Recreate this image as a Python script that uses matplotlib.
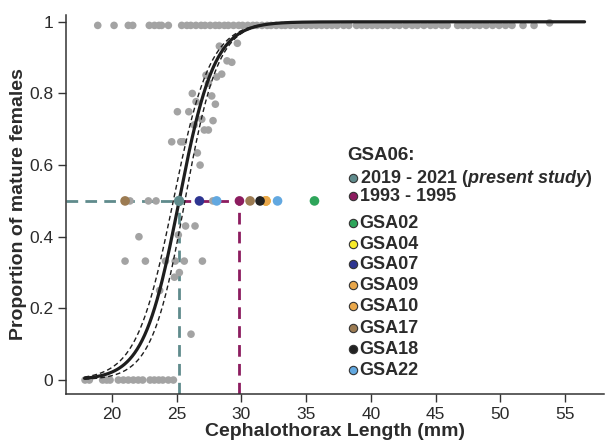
import numpy as np
import matplotlib
matplotlib.use("Agg")
import matplotlib.pyplot as plt

plt.rcParams["font.family"] = ["Liberation Sans", "DejaVu Sans"]
plt.rcParams["mathtext.fontset"] = "custom"
plt.rcParams["mathtext.it"] = "Liberation Sans:bold:italic"
plt.rcParams["mathtext.rm"] = "Liberation Sans:bold"

TXT = "#2b2b2b"
GRAY = "#a3a3a3"

# ----------------------------------------------------------------------------
# Data
# ----------------------------------------------------------------------------

# observed proportions of mature females by CL class
obs_cl_top = [18.92, 20.18, 21.28, 21.62, 22.9, 23.3, 23.65, 23.85, 24.37,
              25.4, 25.8, 26.1, 26.5, 26.9, 27.2, 27.6, 28.0, 28.3, 28.7,
              29.0, 29.4, 29.8, 30.1, 30.5, 30.9, 31.2, 31.6, 32.0, 32.3,
              32.7, 33.1, 33.4, 33.8, 34.2, 34.6, 35.0, 35.4, 35.8, 36.2,
              36.6, 37.0, 37.4, 37.9, 38.3, 38.9, 39.3, 39.7, 40.1, 40.5,
              40.9, 41.3, 41.8, 42.2, 42.7, 43.2, 43.6, 44.1, 44.6, 45.0,
              45.5, 45.9, 46.7, 47.1, 47.5, 48.0, 48.4, 48.9, 49.4, 49.9,
              50.4, 50.9, 51.75, 52.6]
obs_p_top = [0.99] * len(obs_cl_top)

obs_cl_mid = [53.8, 28.31, 29.7, 28.9, 29.27, 28.49, 27.28, 28.1, 27.46,
              26.22, 27.72, 26.51, 28.0, 25.07, 25.95, 26.95, 27.82, 26.36,
              27.15, 27.46, 24.63, 25.33, 25.53, 26.61, 26.82,
              21.41, 22.83, 23.42, 27.8,
              25.7, 26.43, 22.1, 25.14,
              21.03, 22.6, 24.15, 24.9, 25.6, 27.0,
              25.22, 24.84, 23.7, 26.12]
obs_p_mid = [0.997, 0.932, 0.94, 0.891, 0.887, 0.854, 0.851, 0.846, 0.828,
             0.80, 0.793, 0.777, 0.77, 0.749, 0.749, 0.728, 0.724, 0.712,
             0.698, 0.698, 0.665, 0.665, 0.665, 0.634, 0.60,
             0.50, 0.50, 0.50, 0.50,
             0.43, 0.43, 0.40, 0.405,
             0.332, 0.332, 0.332, 0.332, 0.332, 0.332,
             0.30, 0.287, 0.25, 0.128]

obs_cl_bot = [17.94, 18.27, 19.3, 19.61, 19.87, 20.51, 20.9, 21.28, 21.67,
              22.05, 22.39, 22.96, 23.29, 23.63, 23.94, 24.37, 24.76]
obs_p_bot = [0.0] * len(obs_cl_bot)

# logistic ogive: fit and confidence limits (L50, slope)
fit_l50, fit_slope = 25.2, 0.73
ci_l50 = [24.75, 25.65]
ci_slope = [0.70, 0.78]
fit_range = [17.9, 56.5]
ci_range = [17.9, 42.0]

# L50 of present study and 1993-1995
l50_present = 25.2
l50_past = 29.86

# L50 values from other GSAs (plotted at p = 0.5)
gsa_names = ["GSA04", "GSA09", "GSA10", "GSA17", "GSA17", "GSA07",
             "GSA22", "GSA18", "GSA22", "GSA02"]
gsa_l50 = [31.9, 31.9, 31.9, 21.03, 30.68, 26.77, 28.1, 31.45, 32.8, 35.65]

legend_labels = ["2019 - 2021 ($\\mathit{present\\ study}$)", "1993 - 1995",
                 "GSA02", "GSA04", "GSA07", "GSA09", "GSA10", "GSA17",
                 "GSA18", "GSA22"]

colors = {
    "present": "#5f8b8c",
    "past": "#8c1c5f",
    "GSA02": "#2ea55a",
    "GSA04": "#f7ea2a",
    "GSA07": "#2e3591",
    "GSA09": "#e8a64a",
    "GSA10": "#eaa84b",
    "GSA17": "#9c7b52",
    "GSA18": "#222222",
    "GSA22": "#62a8e0",
}


def logistic(x, l50, b):
    return 1.0 / (1.0 + np.exp(-b * (x - l50)))


# ----------------------------------------------------------------------------
# Figure
# ----------------------------------------------------------------------------

W, H = 614, 440
fig = plt.figure(figsize=(W / 100, H / 100), dpi=100)
ax = fig.add_axes([66 / W, 1 - 394 / H, 538 / W, 379 / H])

xmin, xmax = 16.47, 58.0
ymin, ymax = -0.039, 1.019
ax.set_xlim(xmin, xmax)
ax.set_ylim(ymin, ymax)

# reference dashed lines for L50
dash = (0, (4.2, 2.6))
ax.plot([xmin, l50_present], [0.5, 0.5], color=colors["present"], lw=2,
        ls=dash, zorder=2)
ax.plot([l50_present, l50_present], [ymin, 0.5], color=colors["present"],
        lw=2, ls=dash, zorder=2)
ax.plot([l50_present, l50_past], [0.5, 0.5], color=colors["past"], lw=2,
        ls=dash, zorder=2)
ax.plot([l50_past, l50_past], [ymin, 0.5], color=colors["past"], lw=2,
        ls=dash, zorder=2)

# observed points
ax.scatter(obs_cl_top + obs_cl_mid + obs_cl_bot,
           obs_p_top + obs_p_mid + obs_p_bot,
           s=30, color=GRAY, edgecolor="none", zorder=3)

# ogive + confidence limits
xf = np.linspace(fit_range[0], fit_range[1], 400)
ax.plot(xf, logistic(xf, fit_l50, fit_slope), color="#1e1e1e", lw=2.3,
        zorder=4, solid_capstyle="round")
xc = np.linspace(ci_range[0], ci_range[1], 300)
for l50, b in zip(ci_l50, ci_slope):
    ax.plot(xc, logistic(xc, l50, b), color="#1e1e1e", lw=1.0,
            ls=(0, (3.5, 2.2)), zorder=4)

# L50 points of the other GSAs and GSA06
for name, l50 in zip(gsa_names, gsa_l50):
    ax.scatter([l50], [0.5], s=48, color=colors[name], edgecolor="none",
               zorder=5)
ax.scatter([l50_present], [0.5], s=55, color=colors["present"],
           edgecolor="none", zorder=6)
ax.scatter([l50_past], [0.5], s=48, color=colors["past"], edgecolor="none",
           zorder=6)

# axes styling
for side in ["top", "right"]:
    ax.spines[side].set_visible(False)
for side in ["left", "bottom"]:
    ax.spines[side].set_linewidth(1.1)
    ax.spines[side].set_color("#333333")
ax.set_xticks([20, 25, 30, 35, 40, 45, 50, 55])
ax.set_yticks([0, 0.2, 0.4, 0.6, 0.8, 1.0])
ax.set_yticklabels(["0", "0.2", "0.4", "0.6", "0.8", "1"])
ax.tick_params(length=6, width=1, color="#333333", labelcolor=TXT,
               labelsize=12.5, pad=3)
ax.set_xlabel("Cephalothorax Length (mm)", fontsize=14, fontweight="bold",
              color=TXT, labelpad=1)
ax.set_ylabel("Proportion of mature females", fontsize=14, fontweight="bold",
              color=TXT, labelpad=2)

# legend (custom layout)
def ax_xy(px, py):
    return (px - 66) / 538, (394 - py) / 379


ax.text(*ax_xy(347, 155), "GSA06:", transform=ax.transAxes, fontsize=13.5,
        fontweight="bold", color=TXT, va="center", ha="left")
row_py = [178, 196, 223, 244, 264, 285, 306, 328, 349, 370]
row_keys = ["present", "past", "GSA02", "GSA04", "GSA07", "GSA09", "GSA10",
            "GSA17", "GSA18", "GSA22"]
for py, key, lab in zip(row_py, row_keys, legend_labels):
    mx, my = ax_xy(352.7, py)
    ax.plot([mx], [my], "o", ms=6, mfc=colors[key], mec="#333333", mew=0.8,
            transform=ax.transAxes, clip_on=False, zorder=7)
    tx, ty = ax_xy(359.5, py)
    ax.text(tx, ty, lab, transform=ax.transAxes, fontsize=13,
            fontweight="bold", color=TXT, va="center", ha="left")

fig.savefig("out.png", dpi=100)
